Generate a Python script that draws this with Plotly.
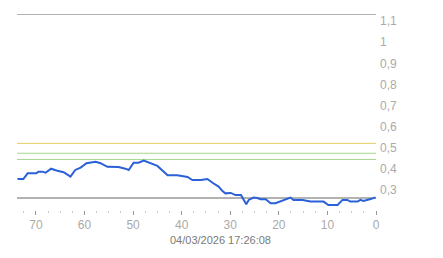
import plotly.graph_objects as go

# data: x = units ago (reversed axis), y = values
x_vals = [73.8, 72.6, 71.7, 69.9, 69.5, 68.7, 68.0, 66.9, 65.6, 64.3, 62.9, 61.9, 60.8, 59.6,
          57.7, 56.7, 55.3, 53.0, 51.6, 50.9, 49.9, 48.9, 47.8, 46.8, 45.0, 42.9, 40.9, 38.8,
          37.8, 36.1, 34.7, 33.5, 32.4, 31.6, 31.0, 29.9, 28.9, 27.8, 27.3, 26.7, 26.2, 25.2,
          24.4, 23.8, 22.7, 21.7, 20.7, 19.7, 18.6, 17.6, 17.0, 15.1, 13.5, 10.8, 9.8, 7.9,
          6.9, 5.9, 5.3, 3.8, 3.2, 2.6, 1.1, 0.1]
y_vals = [0.352, 0.352, 0.379, 0.379, 0.387, 0.387, 0.382, 0.401, 0.391, 0.384, 0.363, 0.395,
          0.406, 0.427, 0.434, 0.427, 0.410, 0.409, 0.401, 0.395, 0.429, 0.429, 0.439, 0.429,
          0.414, 0.370, 0.370, 0.362, 0.347, 0.347, 0.352, 0.332, 0.316, 0.295, 0.284, 0.286,
          0.276, 0.276, 0.253, 0.232, 0.253, 0.264, 0.262, 0.256, 0.256, 0.237, 0.237, 0.245,
          0.256, 0.264, 0.253, 0.253, 0.245, 0.245, 0.229, 0.229, 0.253, 0.253, 0.245, 0.245,
          0.253, 0.248, 0.257, 0.265]

x_ticks = [70, 60, 50, 40, 30, 20, 10, 0]
y_tick_vals = [0.3, 0.4, 0.5, 0.6, 0.7, 0.8, 0.9, 1.0, 1.1]
y_tick_text = ["0,3", "0,4", "0,5", "0,6", "0,7", "0,8", "0,9", "1", "1,1"]

level_top = 1.134
level_bottom = 0.262
level_yellow = 0.521
level_green1 = 0.474
level_green2 = 0.445

timestamp = "04/03/2026 17:26:08"

fig = go.Figure()
fig.add_trace(go.Scatter(x=x_vals, y=y_vals, mode="lines",
                         line=dict(color="#2a60d8", width=2), cliponaxis=False,
                         hoverinfo="skip"))

for lvl, col in [(level_top, "#666666"), (level_bottom, "#666666"),
                 (level_yellow, "#e4cf62"), (level_green1, "#a4d58c"), (level_green2, "#a4d58c")]:
    fig.add_shape(type="line", xref="paper", yref="y", x0=0, x1=1, y0=lvl, y1=lvl,
                  line=dict(color=col, width=1), layer="below")

fig.add_annotation(text=timestamp, xref="paper", yref="paper", x=(220 - 17) / 359, y=-30 / 196,
                   showarrow=False, font=dict(size=11, color="#7a7a7a", family="Liberation Sans"),
                   xanchor="center", yanchor="middle")

fig.update_layout(
    width=443, height=258,
    margin=dict(l=17, r=67, t=14, b=48),
    paper_bgcolor="white", plot_bgcolor="white",
    showlegend=False,
    font=dict(family="Liberation Sans", size=11, color="#999999"),
    xaxis=dict(range=[73.9, 0], tickvals=x_ticks, ticks="outside", ticklen=4, tickcolor="#999999",
               tickwidth=1, showgrid=False, zeroline=False, showline=False,
               tickfont=dict(size=12, color="#aaaaaa"),
               minor=dict(dtick=2.5, tick0=0, ticks="outside", ticklen=2, tickcolor="#cccccc", showgrid=False)),
    yaxis=dict(range=[0.2052, 1.134], side="right", tickvals=y_tick_vals, ticktext=y_tick_text,
               showgrid=False, zeroline=False, showline=False, ticks="", ticklabelstandoff=3,
               tickfont=dict(size=12, color="#aaaaaa")),
)

fig.write_html("out.html")
